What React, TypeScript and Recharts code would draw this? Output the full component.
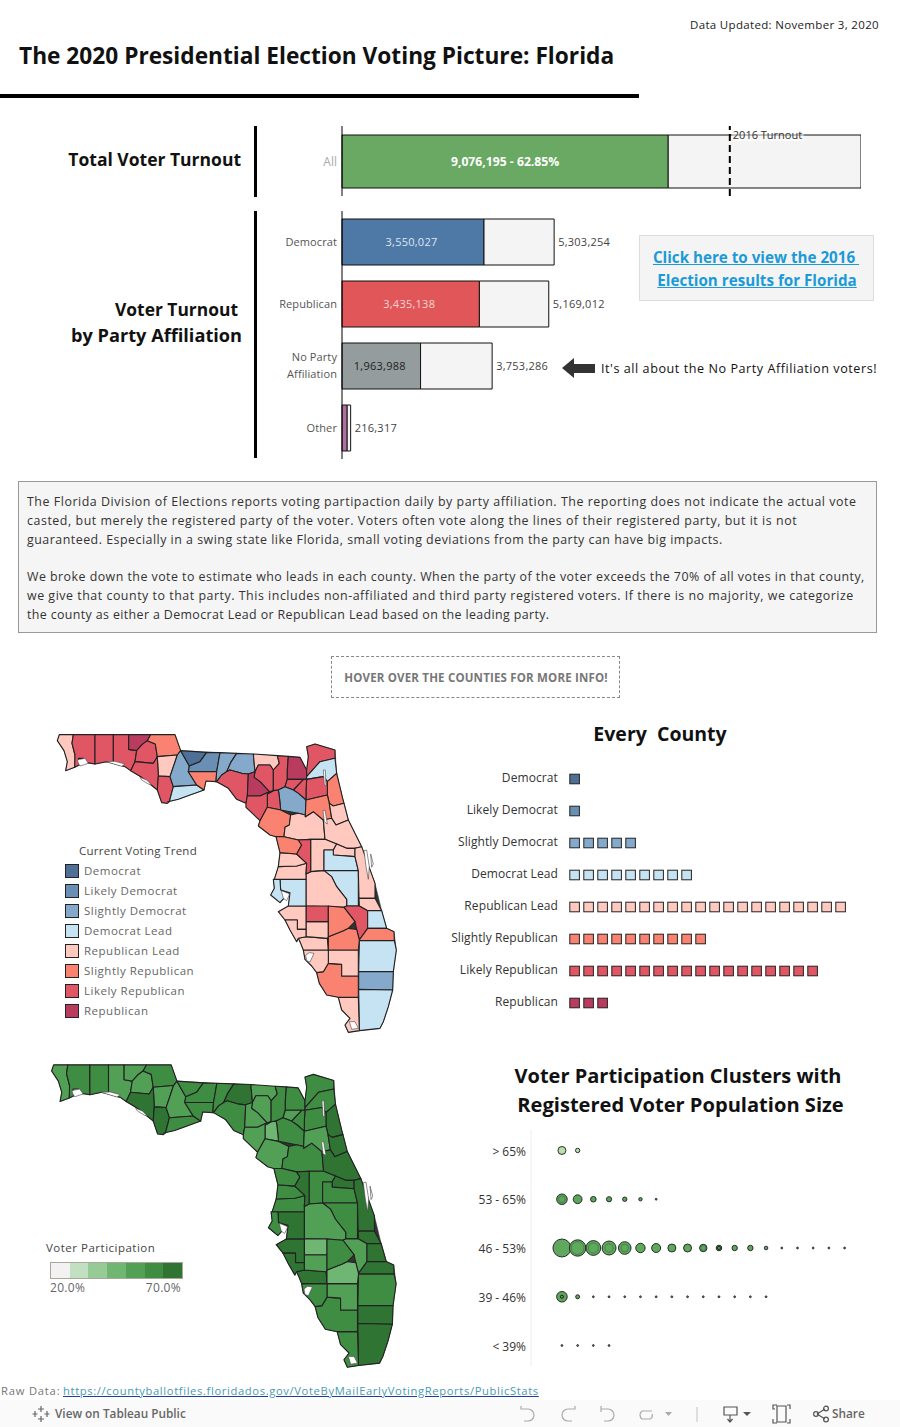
import React from 'react'
import {
  BarChart, Bar, XAxis, YAxis, ZAxis, Cell, LabelList, ReferenceLine, ScatterChart, Scatter,
} from 'recharts'

// top bars
const totalTurnout = 9076195
const totalLabel = '9,076,195 - 62.85%'
const totalRegistered = 14440249
const turnout2016 = 10790000
const partyNames = ['Democrat', 'Republican', 'No Party Affiliation', 'Other']
const partyTurnout = [3550027, 3435138, 1963988, 130000]
const partyRegistered = [5303254, 5169012, 3753286, 216317]
const partyColors = ['#4e79a7', '#e15759', '#949c9e', '#b0709f']
const partyLabelColors = ['#dfe6ee', '#f6d5d5', '#222222', 'none']

// voting trend
const trendNames = ['Democrat', 'Likely Democrat', 'Slightly Democrat', 'Democrat Lead', 'Republican Lead', 'Slightly Republican', 'Likely Republican', 'Republican']
const trendColors = ['#4f7096', '#6a8fb5', '#85a9cb', '#c6e3f4', '#ffc9c0', '#f98370', '#e05665', '#b93c5e']
const trendCounts = [1, 1, 5, 9, 20, 10, 18, 3]
const trendGroups = [
  ['Gadsden'],
  ['Leon'],
  ['Liberty', 'Jefferson', 'Madison', 'Alachua', 'Broward'],
  ['Duval', 'Franklin', 'Orange', 'Osceola', 'Pinellas', 'Hillsborough', 'St Lucie', 'Palm Beach', 'Miami-Dade'],
  ['Escambia', 'Calhoun', 'Hamilton', 'Marion', 'Flagler', 'Volusia', 'Lake', 'Seminole', 'Hernando', 'Pasco', 'Polk', 'Brevard', 'Indian River', 'Manatee', 'Sarasota', 'DeSoto', 'Charlotte', 'Lee', 'Hendry', 'Monroe'],
  ['Jackson', 'Wakulla', 'Levy', 'Putnam', 'St Johns', 'Citrus', 'Highlands', 'Glades', 'Martin', 'Collier'],
  ['Santa Rosa', 'Okaloosa', 'Walton', 'Washington', 'Bay', 'Gulf', 'Taylor', 'Suwannee', 'Columbia', 'Nassau', 'Clay', 'Union', 'Bradford', 'Dixie', 'Gilchrist', 'Sumter', 'Hardee', 'Okeechobee'],
  ['Holmes', 'Baker', 'Lafayette'],
]

// participation bands (3 = lightest used on the map)
const participationColors = ['#f2f2f2', '#c2dfc1', '#97cb95', '#6fb672', '#52a055', '#3f8c43', '#2f7433']
const participationGroups: Record<number, string[]> = {
  3: ['Gilchrist', 'Glades', 'Hardee'],
  4: ['Escambia', 'Walton', 'Holmes', 'Washington', 'Calhoun', 'Liberty', 'Hamilton', 'Suwannee', 'Lafayette', 'Bradford', 'Dixie', 'Levy', 'Putnam', 'Polk', 'Hendry', 'DeSoto', 'Okeechobee'],
  5: ['Santa Rosa', 'Okaloosa', 'Jackson', 'Franklin', 'Gadsden', 'Leon', 'Wakulla', 'Jefferson', 'Taylor', 'Columbia', 'Baker', 'Union', 'Alachua', 'Nassau', 'Duval', 'Clay', 'Marion', 'Lake', 'Citrus', 'Hernando', 'Pasco', 'Pinellas', 'Orange', 'Osceola', 'Palm Beach', 'Monroe', 'Collier', 'Lee', 'Highlands'],
  6: ['Bay', 'Gulf', 'Madison', 'St Johns', 'Flagler', 'Volusia', 'Seminole', 'Sumter', 'Hillsborough', 'Brevard', 'Indian River', 'St Lucie', 'Martin', 'Broward', 'Miami-Dade', 'Charlotte', 'Sarasota', 'Manatee'],
}

// county outlines in map-plane units
const stateOutline = '52,62 58,44 405,44 422,92 780,112 800,150 805,110 800,80 825,72 885,90 890,160 908,235 912,250 925,300 965,380 1005,490 1025,572 1040,625 1062,635 1069,690 1060,755 1058,810 1045,860 1030,905 1020,925 958,932 925,937 915,915 930,895 905,870 895,832 860,825 838,790 830,758 815,738 795,718 790,690 782,670 775,655 770,665 750,630 735,600 715,575 745,558 750,518 745,520 720,548 692,525 703,505 700,478 703,478 715,440 720,398 708,350 690,345 655,318 660,302 618,262 618,250 590,238 565,205 530,185 498,183 492,210 450,225 415,238 383,245 365,248 352,210 330,192 305,172 272,152 255,140 220,130 200,125 165,132 140,128 130,115 115,115 118,135 104,142 77,152 82,125 72,92'
const countyOutlines: Record<string, string> = {
  Escambia: '58,44 100,44 96,70 105,105 105,130 104,142 77,152 82,125 72,92 52,62',
  'Santa Rosa': '100,44 165,44 165,132 140,128 130,115 115,115 118,135 104,142 105,105 96,70',
  Okaloosa: '165,44 220,44 220,130 200,125 165,132',
  Walton: '220,44 266,44 266,88 290,92 285,125 272,152 255,140 220,130',
  Holmes: '266,44 332,44 322,62 306,74 290,92 266,88',
  Washington: '306,74 322,62 346,72 352,110 340,130 285,125 290,92',
  Jackson: '332,44 405,44 422,92 412,105 352,110 346,72 322,62',
  Calhoun: '352,110 412,105 390,170 355,168',
  Bay: '285,125 340,130 352,110 355,168 352,210 330,192 305,172 272,152',
  Gulf: '355,168 390,170 400,200 388,245 382,250 365,248 352,210',
  Liberty: '412,105 422,92 448,138 445,155 470,195 400,200 390,170',
  Franklin: '400,200 470,195 492,210 450,225 415,238 383,245 388,245',
  Gadsden: '422,92 500,97 480,125 448,138',
  Leon: '500,97 540,98 530,155 445,155 448,138 480,125',
  Wakulla: '445,155 530,155 528,185 498,183 492,210 470,195',
  Jefferson: '540,98 590,100 572,128 560,155 545,165 530,185 528,185 530,155',
  Madison: '590,100 640,102 645,155 625,162 605,160 570,150 560,155 572,128',
  Taylor: '545,165 560,155 570,150 605,160 625,162 622,228 618,250 590,238 565,205 530,185',
  Hamilton: '640,102 712,107 718,130 700,150 690,135 655,135 645,155',
  Suwannee: '645,155 655,135 690,135 700,150 700,212 688,215 660,185 642,172',
  Lafayette: '625,162 645,155 642,172 660,185 688,215 660,228 622,228',
  Columbia: '712,107 745,109 742,150 742,178 735,200 715,210 700,212 700,150 718,130',
  Baker: '745,109 780,112 800,150 800,178 742,178 742,150',
  Nassau: '800,80 825,72 885,90 885,115 840,125 800,170 800,150 805,110',
  Duval: '800,170 840,125 885,115 890,160 862,185 850,170 800,178',
  'St Johns': '862,185 890,160 908,235 912,250 880,258 868,250 862,225',
  Clay: '800,178 850,170 862,185 862,225 798,240 798,210',
  Union: '760,210 790,178 800,178 798,210 798,240 775,220',
  Bradford: '742,178 790,178 760,210 735,200',
  Alachua: '735,200 760,210 775,220 798,240 796,285 775,280 722,270 718,230 715,210',
  Gilchrist: '700,212 715,210 718,230 722,270 682,262 682,222',
  Dixie: '622,228 660,228 688,215 700,212 682,222 682,262 660,302 618,262 618,250',
  Levy: '682,262 722,270 752,285 748,315 735,322 732,350 708,350 690,345 655,318 660,302',
  Marion: '752,285 775,280 796,285 796,290 820,275 850,300 855,358 812,358 775,360 732,350 735,322 748,315',
  Putnam: '796,285 798,240 862,225 868,250 875,295 855,300 850,300 820,275 796,290',
  Flagler: '868,250 880,258 912,250 925,300 888,315 875,295',
  Volusia: '850,300 875,295 888,315 925,300 965,380 945,385 920,385 890,372 855,358',
  Lake: '812,358 855,358 890,372 880,390 852,390 852,452 812,455',
  Seminole: '890,372 920,385 945,385 945,410 880,405 880,390',
  Orange: '852,390 880,390 880,405 945,410 955,452 852,452',
  Osceola: '852,452 955,452 955,558 920,558 920,538 890,500 875,470',
  Polk: '798,462 812,455 852,452 875,470 890,500 920,538 920,558 912,562 798,558',
  Brevard: '945,385 965,380 1005,490 1005,535 957,535 955,452 945,410',
  'Indian River': '957,535 1005,535 1025,572 983,572 958,558',
  Okeechobee: '912,562 920,558 958,558 983,572 983,625 958,660 950,628 945,605',
  'St Lucie': '983,572 1025,572 1040,625 983,625',
  Martin: '983,625 1040,625 1062,635 1063,662 958,662 958,660',
  'Palm Beach': '958,662 1063,662 1069,690 1060,755 956,755',
  Broward: '956,755 1060,755 1058,810 956,808',
  'Miami-Dade': '956,808 1058,810 1045,860 1030,905 1020,925 958,932',
  Monroe: '895,832 955,832 958,932 925,937 915,915 930,895 905,870',
  Collier: '830,758 850,755 865,730 905,733 905,768 955,768 955,832 895,832 860,825 838,790',
  Hendry: '865,690 955,690 955,768 905,768 905,733 865,730',
  Lee: '790,690 865,690 865,730 850,755 830,758 815,738 795,718',
  Charlotte: '775,655 798,650 862,655 865,690 790,690 782,670',
  Glades: '865,650 910,632 925,625 950,628 958,660 955,690 865,690',
  DeSoto: '798,605 865,605 865,650 862,655 798,650',
  Hardee: '798,558 865,558 865,605 798,605',
  Highlands: '865,558 912,562 945,605 925,625 910,632 865,650',
  Manatee: '745,558 798,558 798,628 772,628 772,600 735,600 715,575',
  Sarasota: '735,600 772,600 772,628 798,628 798,650 775,655 770,665 750,630',
  Hillsborough: '720,478 798,478 798,558 745,558 750,518 722,510',
  Pinellas: '700,478 720,478 722,510 745,520 720,548 692,525 703,505',
  Pasco: '715,440 770,438 800,430 798,462 798,478 703,478',
  Hernando: '720,398 770,402 800,430 770,438 715,440',
  Citrus: '708,350 732,350 775,360 785,375 770,402 720,398',
  Sumter: '775,360 812,358 812,455 798,462 800,430 770,402 785,375',
}
const waterOutlines = [
  '112,120 135,115 145,130 120,138 115,130',
  '197,125 225,124 255,132 245,139 215,130',
  '300,172 320,180 335,195 325,192 305,180',
  '724,512 745,520 748,524 740,542 730,535',
  '797,706 808,698 822,700 810,726 800,722',
  '972,392 980,390 988,440 985,478 978,440',
  '992,402 1000,432 995,442',
  '928,905 945,905 955,925 935,928',
  '850,150 856,150 858,198 853,195',
  '849,272 855,270 862,312 853,306',
]

// clusters: estimated registered voters (thousands) by column
const clusterNames = ['> 65%', '53 - 65%', '46 - 53%', '39 - 46%', '< 39%']
const clusterColors = ['#b7dfa8', '#5da55c', '#5fa85e', '#5da55c', '#5da55c']
const clusterVoters = [
  [272, 82],
  [478, 330, 133, 115, 82, 49, 14],
  [1377, 1143, 930, 833, 675, 375, 345, 272, 272, 233, 133, 124, 124, 55, 14, 14, 14, 14, 14],
  [478, 68, 14, 14, 14, 14, 14, 14, 14, 14, 14, 14, 14, 14],
  [14, 14, 14, 14],
]
const clusterInnerVoters = [
  [],
  [200],
  [0, 700, 430, 300, 250, 0, 0, 0, 0, 110, 40],
  [40],
  [],
]

const paragraphLines: [string, number, number][] = [
  ['The Florida Division of Elections reports voting partipaction daily by party affiliation. The reporting does not indicate the actual vote', 501, 0.55],
  ['casted, but merely the registered party of the voter. Voters often vote along the lines of their registered party, but it is not', 520, 0.55],
  ['guaranteed. Especially in a swing state like Florida, small voting deviations from the party can have big impacts.', 539, 0.5],
  ['We broke down the vote to estimate who leads in each county. When the party of the voter exceeds the 70% of all votes in that county,', 576, 0.47],
  ['we give that county to that party. This includes non-affiliated and third party registered voters. If there is no majority, we categorize', 595, 0.53],
  ['the county as either a Democrat Lead or Republican Lead based on the leading party.', 614, 0.38],
]

const FONT = '"Open Sans", sans-serif'

function toPoints(outline: string) {
  return outline.split(' ').map(pair => {
    const [x, y] = pair.split(',').map(Number)
    return { x, y }
  })
}

const polygon = (fill: string, stroke: string, strokeWidth: number) => (props: any) => {
  const pts = props.points.map((p: any) => `${p.cx ?? p.x},${p.cy ?? p.y}`).join(' ')
  return <polygon points={pts} fill={fill} stroke={stroke} strokeWidth={strokeWidth} strokeLinejoin="round" />
}
const noDot = () => null

function FloridaMap({ fills, width, height, style }: any) {
  return (
    <div style={{ position: 'absolute', ...style }}>
      <ScatterChart width={width} height={height} margin={{ top: 0, right: 0, bottom: 0, left: 0 }}>
        <XAxis type="number" dataKey="x" domain={[0, 1110]} hide />
        <YAxis type="number" dataKey="y" domain={[0, 960]} reversed hide />
        <Scatter data={toPoints(stateOutline)} line={polygon('#333333', '#333333', 0.5)} shape={noDot} isAnimationActive={false} />
        {Object.keys(countyOutlines).map(name => (
          <Scatter
            key={name}
            name={name}
            data={toPoints(countyOutlines[name])}
            line={polygon(fills[name], '#222222', 1.1)}
            shape={noDot}
            isAnimationActive={false}
          />
        ))}
        {waterOutlines.map((w, i) => (
          <Scatter key={i} data={toPoints(w)} line={polygon('#ffffff', '#444444', 0.6)} shape={noDot} isAnimationActive={false} />
        ))}
      </ScatterChart>
    </div>
  )
}

function Txt({ x, right, cy, size = 12, weight = 400, color = '#333', lh = 20, ls = 0, center, children, style }: any) {
  const pos: any = { position: 'absolute', top: cy - lh / 2, lineHeight: `${lh}px`, fontSize: size, fontWeight: weight, color, letterSpacing: ls, whiteSpace: 'nowrap' }
  if (center !== undefined) {
    pos.left = center - 400
    pos.width = 800
    pos.textAlign = 'center'
  } else if (right !== undefined) {
    pos.right = 900 - right
  } else {
    pos.left = x
  }
  return <div style={{ ...pos, ...style }}>{children}</div>
}

function PartyTick({ x, y, payload }: any) {
  const parts = payload.value === 'No Party Affiliation' ? ['No Party', 'Affiliation'] : [payload.value]
  return (
    <text x={x} y={y} textAnchor="end" fontSize={11} fill="#555" letterSpacing={0.1}>
      {parts.map((p: string, i: number) => (
        <tspan key={p} x={x} dy={parts.length > 1 ? (i === 0 ? -5 : 17) : 4}>{p}</tspan>
      ))}
    </text>
  )
}

function Turnout2016Label({ viewBox }: any) {
  return (
    <g>
      <rect x={viewBox.x + 2} y={viewBox.y + 3} width={72} height={12} fill="#fff" opacity={0.5} />
      <text x={viewBox.x + 3} y={viewBox.y + 13} fontSize={11} fill="#333">2016 Turnout</text>
    </g>
  )
}

function PartyInnerLabel({ x, y, width, height, value, index }: any) {
  if (index === 3) return null
  return (
    <text x={x + width / 2 - 1.5} y={y + height / 2 + 4} textAnchor="middle" fontSize={11} letterSpacing={0.25} fill={partyLabelColors[index]}>
      {Number(value).toLocaleString('en-US')}
    </text>
  )
}

const squareShape = (fill: string) => (props: any) => (
  <rect x={props.cx - 4.8} y={props.cy - 4.8} width={9.6} height={9.6} fill={fill} stroke="#222" strokeWidth={1} />
)

const innerRing = (props: any) => (
  <circle
    cx={props.cx} cy={props.cy} r={props.width / 2} fill="none"
    stroke={props.payload.z < 100 ? '#111111' : '#3f7d42'} strokeWidth={0.9}
  />
)

const Ico = ({ x, w = 20, children }: any) => (
  <svg style={{ position: 'absolute', left: x, top: 1404 }} width={w} height={20} fill="none" stroke="#aaa" strokeWidth={1.2}>{children}</svg>
)

export default function App() {
  const totalData = [{ name: 'All', turnout: totalTurnout, rest: totalRegistered - totalTurnout }]
  const partyData = partyNames.map((name, i) => ({
    name, turnout: partyTurnout[i], rest: partyRegistered[i] - partyTurnout[i], registered: partyRegistered[i],
  }))

  const trendFills: Record<string, string> = {}
  trendGroups.forEach((g, i) => g.forEach(c => { trendFills[c] = trendColors[i] }))
  const participationFills: Record<string, string> = {}
  Object.keys(participationGroups).forEach(k => {
    participationGroups[Number(k)].forEach(c => { participationFills[c] = participationColors[Number(k)] })
  })

  return (
    <div style={{ position: 'absolute', left: 0, top: 0, width: 900, height: 1427, background: '#fff', fontFamily: FONT, overflow: 'hidden' }}>
      <Txt right={879} cy={25} size={11.5} ls={0.33} color="#222">Data Updated: November 3, 2020</Txt>
      <Txt x={19} cy={56} size={22.7} weight={700} color="#111" lh={30}>The 2020 Presidential Election Voting Picture: Florida</Txt>
      <div style={{ position: 'absolute', left: 0, top: 94, width: 639, height: 4, background: '#000' }} />

      {/* 상단 막대 */}
      <div style={{ position: 'absolute', left: 255, top: 126, width: 3, height: 71, background: '#000', marginLeft: -1 }} />
      <div style={{ position: 'absolute', left: 255, top: 211, width: 3, height: 247, background: '#000', marginLeft: -1 }} />
      <Txt right={241} cy={159} size={17.5} weight={700} color="#111">Total Voter Turnout</Txt>
      <Txt center={176.5} cy={309} size={17.4} weight={700} color="#111" lh={26}>Voter Turnout</Txt>
      <Txt center={156.5} cy={335} size={18.2} weight={700} color="#111" lh={26}>by Party Affiliation</Txt>

      <div style={{ position: 'absolute', left: 270, top: 126 }}>
        <BarChart width={591} height={70} layout="vertical" data={totalData} margin={{ top: 0, right: 0, bottom: 0, left: 0 }} barSize={53}>
          <XAxis type="number" domain={[0, totalRegistered]} hide />
          <YAxis type="category" dataKey="name" width={72} tickSize={0} tickMargin={5} tick={{ fontSize: 12, fill: '#aaa', dy: 1 }} axisLine={{ stroke: '#000' }} />
          <Bar dataKey="turnout" stackId="a" fill="#6aa963" stroke="#111" strokeWidth={1} isAnimationActive={false}>
            <LabelList dataKey="turnout" position="center" fill="#fff" fontSize={12.2} fontWeight={700} formatter={() => totalLabel} />
          </Bar>
          <Bar dataKey="rest" stackId="a" fill="#f4f4f4" stroke="#111" strokeWidth={1} isAnimationActive={false} />
          <ReferenceLine x={turnout2016} stroke="#000" strokeWidth={2} strokeDasharray="7 4" label={<Turnout2016Label />} />
        </BarChart>
      </div>

      <div style={{ position: 'absolute', left: 270, top: 211 }}>
        <BarChart width={352} height={248} layout="vertical" data={partyData} margin={{ top: 0, right: 0, bottom: 0, left: 0 }} barSize={46}>
          <XAxis type="number" domain={[0, 7000000]} hide />
          <YAxis type="category" dataKey="name" width={72} interval={0} tickSize={0} tickMargin={5} tick={<PartyTick />} axisLine={{ stroke: '#000' }} />
          <Bar dataKey="turnout" stackId="p" stroke="#111" strokeWidth={1} isAnimationActive={false}>
            {partyData.map((d, i) => <Cell key={d.name} fill={partyColors[i]} />)}
            <LabelList dataKey="turnout" content={<PartyInnerLabel />} />
          </Bar>
          <Bar dataKey="rest" stackId="p" fill="#f4f4f4" stroke="#111" strokeWidth={1} isAnimationActive={false}>
            <LabelList dataKey="registered" position="right" offset={4} fontSize={11} letterSpacing={0.25} fill="#444" formatter={(v: any) => Number(v).toLocaleString('en-US')} />
          </Bar>
        </BarChart>
      </div>

      <div style={{ position: 'absolute', left: 639, top: 235, width: 233, height: 64, background: '#f4f4f4', border: '1px solid #ddd' }} />
      <Txt center={756} cy={257} size={15.2} weight={700} color="#1b9ad8" style={{ textDecoration: 'underline' }}>Click here to view the 2016&nbsp;</Txt>
      <Txt center={757} cy={280} size={15.2} weight={700} color="#1b9ad8" style={{ textDecoration: 'underline' }}>Election results for Florida</Txt>

      <svg style={{ position: 'absolute', left: 560, top: 356 }} width={38} height={24}>
        <polygon points="2,12 14,2 14,8 35,8 35,17 14,17 14,22" fill="#333" />
      </svg>
      <Txt x={601} cy={368.5} size={12.6} ls={0.55} color="#111">It's all about the No Party Affiliation voters!</Txt>

      {/* 설명 */}
      <div style={{ position: 'absolute', left: 18, top: 481, width: 857, height: 150, background: '#f5f5f5', border: '1px solid #999' }} />
      {paragraphLines.map(([t, y, ls]) => <Txt key={y} x={27} cy={y + 1} size={12.4} ls={ls} color="#333">{t}</Txt>)}

      <div style={{ position: 'absolute', left: 331, top: 656, width: 287, height: 40, border: '1px dashed #888' }} />
      <Txt center={476} cy={677.5} size={11.5} ls={0.18} weight={700} color="#777">HOVER OVER THE COUNTIES FOR MORE INFO!</Txt>

      {/* 카운티 지도 */}
      <FloridaMap fills={trendFills} width={370} height={320} style={{ left: 40, top: 720 }} />
      <Txt x={79} cy={851} size={11.5} ls={0.25} color="#444">Current Voting Trend</Txt>
      {trendNames.map((t, i) => (
        <React.Fragment key={t}>
          <div style={{ position: 'absolute', left: 65, top: 864 + i * 20, width: 12, height: 12, background: trendColors[i], border: '1px solid #222' }} />
          <Txt x={84} cy={871 + i * 20} size={11.5} ls={0.5} color="#666">{t}</Txt>
        </React.Fragment>
      ))}

      <Txt center={660} cy={734} size={19.5} weight={700} color="#111" lh={26} style={{ whiteSpace: 'pre' }}>Every  County</Txt>
      <div style={{ position: 'absolute', left: 440, top: 763 }}>
        <ScatterChart width={409} height={256} margin={{ top: 0, right: 0, bottom: 0, left: 0 }}>
          <XAxis type="number" dataKey="x" domain={[-0.4, 19.6]} hide />
          <YAxis
            type="number" dataKey="y" domain={[-0.5, 7.5]} reversed width={129}
            ticks={[0, 1, 2, 3, 4, 5, 6, 7]} interval={0} tickSize={0} tickMargin={11} axisLine={false}
            tick={{ fontSize: 12, fill: '#333', dy: -1, letterSpacing: 0.1 }} tickFormatter={(v: number) => trendNames[v]}
          />
          {trendNames.map((t, i) => (
            <Scatter
              key={t}
              name={t}
              data={Array.from({ length: trendCounts[i] }, (_, j) => ({ x: j, y: i }))}
              shape={squareShape(trendColors[i])}
              isAnimationActive={false}
            />
          ))}
        </ScatterChart>
      </div>

      {/* 참여율 지도 */}
      <FloridaMap fills={participationFills} width={376} height={325} style={{ left: 34, top: 1050 }} />
      <Txt x={46} cy={1248} size={11.5} ls={0.5} color="#444">Voter Participation</Txt>
      <div style={{ position: 'absolute', left: 50, top: 1262, width: 131, height: 15, border: '1px solid #aaa69a', display: 'flex' }}>
        {participationColors.map(c => <div key={c} style={{ flex: 1, background: c }} />)}
      </div>
      <Txt x={50} cy={1288} size={12} ls={0.3} color="#666">20.0%</Txt>
      <Txt right={181} cy={1288} size={12} ls={0.3} color="#666">70.0%</Txt>

      <Txt center={678} cy={1076} size={20} weight={700} color="#111" lh={28}>Voter Participation Clusters with</Txt>
      <Txt center={680.5} cy={1105} size={20.1} weight={700} color="#111" lh={28}>Registered Voter Population Size</Txt>
      <div style={{ position: 'absolute', left: 440, top: 1129.5 }}>
        <ScatterChart width={436} height={236} margin={{ top: 0, right: 0, bottom: 0, left: 0 }}>
          <XAxis type="number" dataKey="x" domain={[-1.97, 20]} hide />
          <YAxis
            type="number" dataKey="y" domain={[-0.42, 4.42]} reversed width={91}
            ticks={[0, 1, 2, 3, 4]} interval={0} tickSize={0} tickMargin={5} axisLine={{ stroke: '#eeeeee' }}
            tick={{ fontSize: 12, fill: '#333', dy: 1 }} tickFormatter={(v: number) => clusterNames[v]}
          />
          <ZAxis type="number" dataKey="z" domain={[0, 1377]} range={[0, 254]} />
          {clusterNames.map((c, i) => (
            <Scatter
              key={c}
              name={c}
              data={clusterVoters[i].map((z, j) => ({ x: j, y: i, z }))}
              fill={clusterColors[i]}
              stroke="#1c1c1c"
              strokeWidth={0.9}
              isAnimationActive={false}
            />
          ))}
          {clusterNames.map((c, i) => (
            <Scatter
              key={`${c}-inner`}
              name={`${c} inner`}
              data={clusterInnerVoters[i].map((z, j) => ({ x: j, y: i, z })).filter(d => d.z > 0)}
              shape={innerRing}
              isAnimationActive={false}
            />
          ))}
        </ScatterChart>
      </div>

      {/* 하단 */}
      <Txt x={1} cy={1391} size={11.2} ls={0.8} color="#777">Raw Data:</Txt>
      <Txt x={63} cy={1391} size={11.2} ls={0.64} color="#4a9ab5" style={{ textDecoration: 'underline', textDecorationColor: '#1f3fa0' }}>https://countyballotfiles.floridados.gov/VoteByMailEarlyVotingReports/PublicStats</Txt>
      <div style={{ position: 'absolute', left: 0, top: 1400, width: 900, height: 27, background: '#fafafa' }} />
      <svg style={{ position: 'absolute', left: 32, top: 1405 }} width={18} height={18} stroke="#666" strokeWidth={1.2}>
        <path d="M9 1V7M6 4H12M9 11V17M6 14H12M3 6V12M0.5 9H5.5M15 6V12M12.5 9H17.5" />
      </svg>
      <Txt x={55} cy={1413} size={11.8} weight={600} color="#666">View on Tableau Public</Txt>
      <Ico x={518}><path d="M3 5 H10 A6 6 0 0 1 10 17 H6 M3 2 V5 H6" /></Ico>
      <Ico x={558}><path d="M17 5 H10 A6 6 0 0 0 10 17 H14 M17 2 V5 H14" /></Ico>
      <Ico x={598}><path d="M3 2 V8 M3 5 H10 A6 6 0 0 1 10 17 H6" /></Ico>
      <Ico x={636}><path d="M16 7 H6 A5 5 0 0 0 6 15 H14 A4 4 0 0 0 16 10" /></Ico>
      <Ico x={662} w={12}><polygon points="3,8 10,8 6.5,12" fill="#aaa" stroke="none" /></Ico>
      <Ico x={695} w={6}><path d="M2 3 V18" stroke="#ccc" /></Ico>
      <Ico x={722}><path d="M2 3 H15 V11 H2 Z M8 11 V17 M5.5 15 L8 18 L10.5 15" stroke="#555" /></Ico>
      <Ico x={741} w={12}><polygon points="2,8 10,8 6,12" fill="#555" stroke="none" /></Ico>
      <Ico x={772}><path d="M5 2 H14 V18 H5 Z M3 5 H1 V1 H5 M15 1 H18 V5 M1 15 V19 H5 M18 15 V19 H15" stroke="#555" /></Ico>
      <Ico x={812}><path d="M5 10 L13 5 M5 10 L13 15" stroke="#555" /><circle cx={4} cy={10} r={2.4} stroke="#555" /><circle cx={14} cy={4.5} r={2.4} stroke="#555" /><circle cx={14} cy={15.5} r={2.4} stroke="#555" /></Ico>
      <Txt x={832} cy={1413} size={11.8} weight={600} color="#666">Share</Txt>
    </div>
  )
}
